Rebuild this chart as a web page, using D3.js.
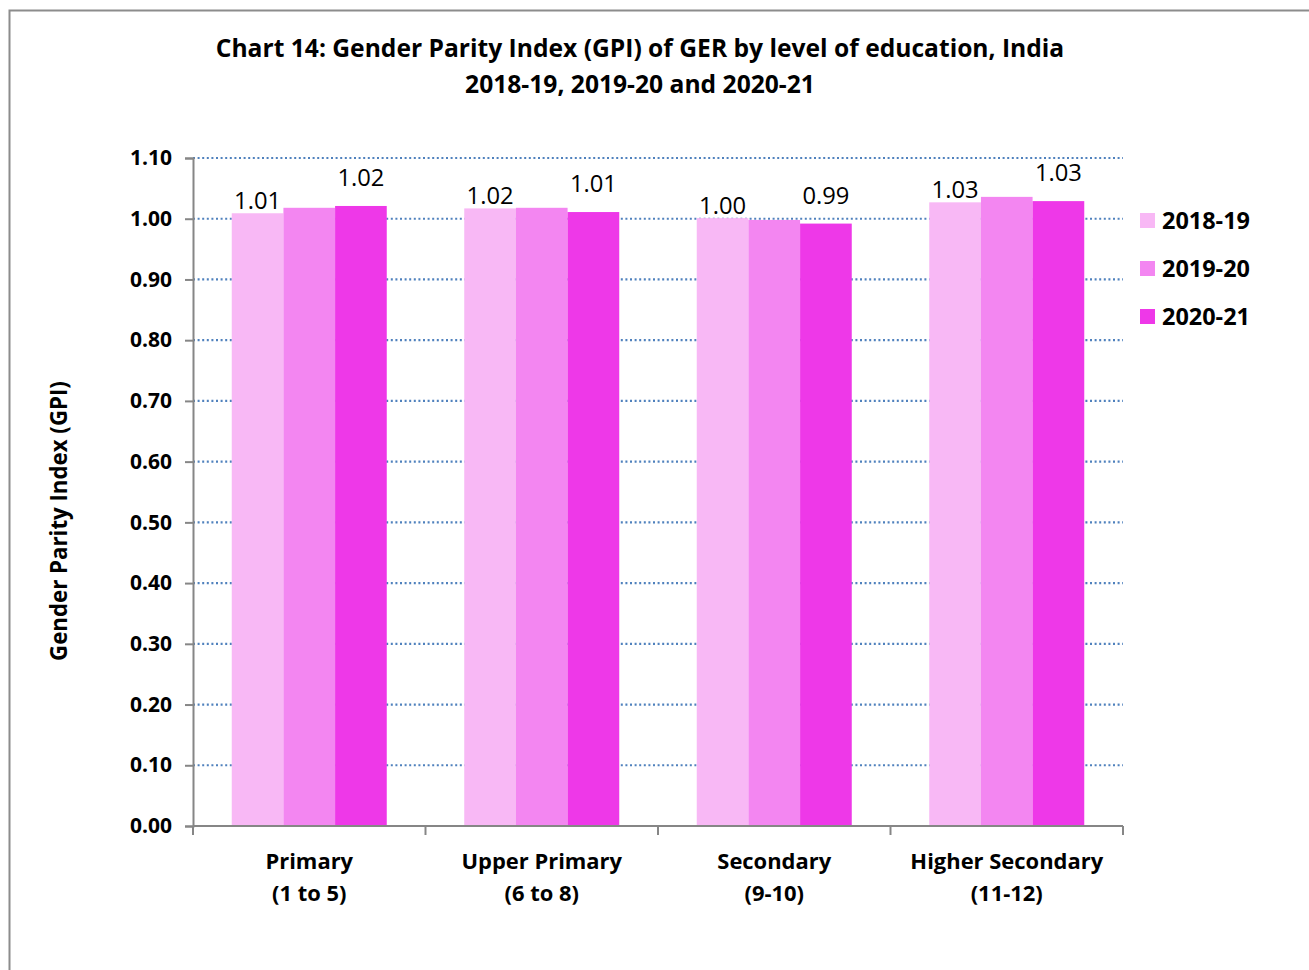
<!DOCTYPE html>
<html><head><meta charset="utf-8">
<script src="https://cdn.jsdelivr.net/npm/d3@7"></script>
<style>body{margin:0;background:#fff;} text{font-family:"Open Sans",Lato,sans-serif;}</style>
</head><body>
<svg id="chart" width="1309" height="970"></svg>
<script>
const categories = [["Primary","(1 to 5)"],["Upper Primary","(6 to 8)"],["Secondary","(9-10)"],["Higher Secondary","(11-12)"]];
const seriesNames = ["2018-19","2019-20","2020-21"];
const s2018 = [1.009, 1.017, 1.001, 1.027];
const s2019 = [1.018, 1.018, 0.998, 1.036];
const s2020 = [1.021, 1.011, 0.992, 1.029];
const labels2018 = ["1.01","1.02","1.00","1.03"];
const labels2019 = [null,null,null,null];
const labels2020 = ["1.02","1.01","0.99","1.03"];
const yTicks = [0,0.1,0.2,0.3,0.4,0.5,0.6,0.7,0.8,0.9,1.0,1.1];
const colors = ["#f8b8f5","#f386f1","#ee38e8"];
const titleLines = ["Chart 14: Gender Parity Index (GPI) of GER by level of education, India","2018-19, 2019-20 and 2020-21"];
const yTitle = "Gender Parity Index (GPI)";

const series = [s2018, s2019, s2020];
const seriesLabels = [labels2018, labels2019, labels2020];

// size a group of texts so a reference text reaches a target width
function fitSize(sel, refNode, target, base){
  const w = refNode.getComputedTextLength();
  const s = base*target/w;
  sel.attr("font-size", s);
  return s;
}

const svg = d3.select("#chart");
svg.append("rect").attr("x",9.5).attr("y",10.5).attr("width",1320).attr("height",980)
  .attr("fill","#fff").attr("stroke","#8c8c8c").attr("stroke-width",2);

const pLeft=193, pRight=1123, pTop=158, pBottom=826;
const y = d3.scaleLinear().domain([0,1.1]).range([pBottom,pTop]);
const x0 = d3.scaleBand().domain(d3.range(categories.length)).range([pLeft,pRight]).paddingInner(0).paddingOuter(0);
const groupW = x0.bandwidth()*0.6667;
const x1 = d3.scaleBand().domain(d3.range(series.length)).range([0,groupW]);

// gridlines
svg.append("g").selectAll("line").data(yTicks.filter(d=>d>0)).join("line")
  .attr("x1",pLeft).attr("x2",pRight).attr("y1",d=>y(d)).attr("y2",d=>y(d))
  .attr("stroke","#4f81bd").attr("stroke-width",2.2).attr("stroke-dasharray","2,2.6");

// y axis
const yAxis = d3.axisLeft(y).tickValues(yTicks).tickFormat(d3.format(".2f")).tickSizeOuter(0).tickSize(8).tickPadding(13);
const ga = svg.append("g").attr("transform",`translate(${pLeft},0)`).call(yAxis);
ga.attr("font-family",null);
ga.select(".domain").attr("stroke","#868686").attr("stroke-width",2);
ga.selectAll(".tick line").attr("stroke","#868686").attr("stroke-width",2);
const tickTexts = ga.selectAll(".tick text").attr("font-size",18).attr("font-weight","bold").attr("fill","#000")
  .attr("font-family","'Open Sans'");
fitSize(tickTexts, tickTexts.nodes()[tickTexts.size()-1], 42, 18);

// bars
const labelNodes = [];
const groups = svg.append("g").selectAll("g").data(categories).join("g")
  .attr("transform",(d,i)=>`translate(${x0(i)+(x0.bandwidth()-groupW)/2},0)`);
groups.each(function(c,ci){
  const g = d3.select(this);
  series.forEach((s,si)=>{
    g.append("rect").attr("x",x1(si)).attr("width",x1.bandwidth())
      .attr("y",y(s[ci])).attr("height",pBottom-y(s[ci])).attr("fill",colors[si]);
    const lab = seriesLabels[si][ci];
    if(lab){
      const off = si===2 ? 20 : 4;
      const t = g.append("text").attr("x",x1(si)+x1.bandwidth()/2).attr("y",y(s[ci])-off)
        .attr("text-anchor","middle").attr("font-size",22).attr("fill","#000")
        .attr("font-family","Lato").text(lab);
      labelNodes.push(t.node());
    }
  });
});
fitSize(d3.selectAll(labelNodes), labelNodes[0], 47, 22);

// x axis
const gx = svg.append("g").attr("transform",`translate(0,${pBottom})`);
gx.append("line").attr("x1",pLeft).attr("x2",pRight).attr("stroke","#868686").attr("stroke-width",2);
gx.selectAll("line.tk").data(d3.range(categories.length+1)).join("line").attr("class","tk")
  .attr("x1",i=>pLeft+i*x0.bandwidth()).attr("x2",i=>pLeft+i*x0.bandwidth()).attr("y1",0).attr("y2",9)
  .attr("stroke","#868686").attr("stroke-width",2);
const catTexts = [];
categories.forEach((c,i)=>{
  const cx = x0(i)+x0.bandwidth()/2;
  const t = gx.append("text").attr("x",cx).attr("y",43).attr("text-anchor","middle")
    .attr("font-size",22).attr("font-weight","bold").attr("fill","#000");
  t.append("tspan").attr("x",cx).attr("dy",0).text(c[0]);
  t.append("tspan").attr("x",cx).attr("dy",32).text(c[1]);
  catTexts.push(t.node());
});
{
  const ref = d3.select(catTexts[3]).select("tspan").node();
  const w = ref.getComputedTextLength();
  d3.selectAll(catTexts).attr("font-size", 22*193/w);
}

// title
const titleNodes = titleLines.map((l,i)=>
  svg.append("text").attr("x",640).attr("y",57+i*36).attr("text-anchor","middle")
    .attr("font-size",23).attr("font-weight","bold").attr("fill","#000").text(l).node());
fitSize(d3.selectAll(titleNodes), titleNodes[0], 849, 23);

// y title
const yt = svg.append("text").attr("transform","translate(67,521) rotate(-90)").attr("text-anchor","middle")
  .attr("font-size",20).attr("font-weight","bold").attr("fill","#000").text(yTitle);
fitSize(yt, yt.node(), 280, 20);

// legend
const lg = svg.append("g").selectAll("g").data(seriesNames).join("g")
  .attr("transform",(d,i)=>`translate(1140,${221+i*48})`);
lg.append("rect").attr("x",0).attr("y",-8).attr("width",15).attr("height",15).attr("fill",(d,i)=>colors[i]);
const lgt = lg.append("text").attr("x",22).attr("y",8).attr("font-size",22).attr("font-weight","bold").attr("fill","#000").text(d=>d);
fitSize(lgt, lgt.node(), 88, 22);
</script>
</body></html>
